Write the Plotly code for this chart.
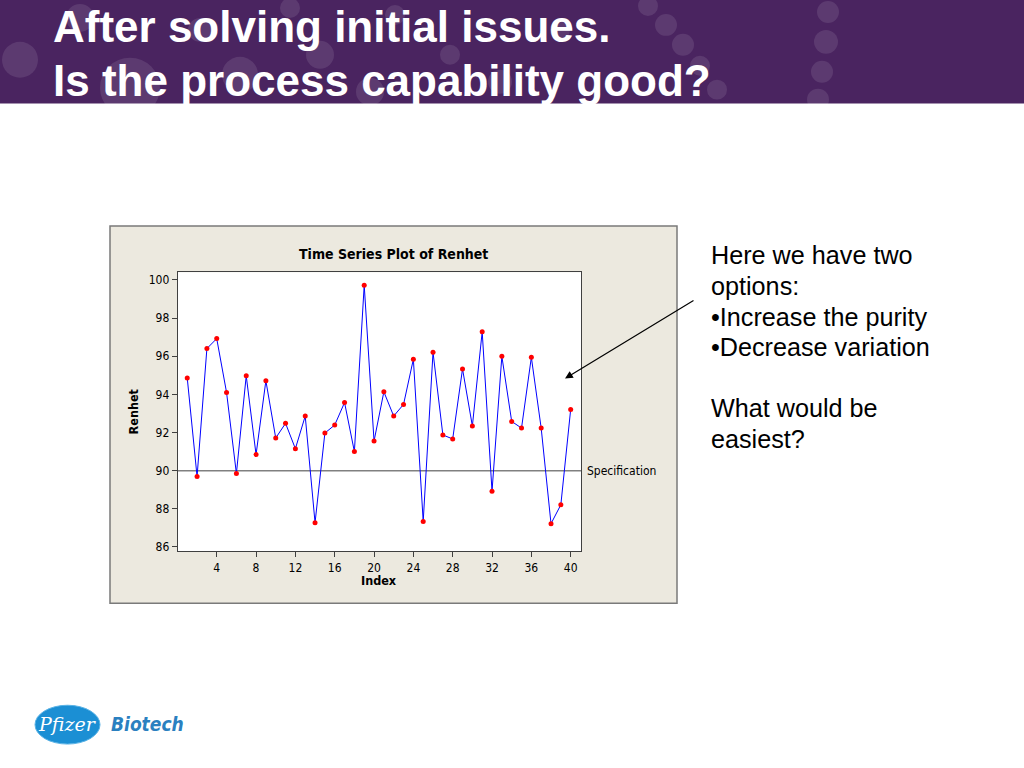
import plotly.graph_objects as go

W, H = 1024, 768

# ---- data ----
index = list(range(1, 41))
renhet = [94.86, 89.69, 96.40, 96.92, 94.10, 89.85, 94.97, 90.84, 94.71, 91.71,
          92.48, 91.15, 92.86, 87.27, 91.97, 92.39, 93.57, 91.00, 99.72, 91.55,
          94.13, 92.86, 93.47, 95.84, 87.34, 96.20, 91.87, 91.66, 95.33, 92.34,
          97.28, 88.92, 95.99, 92.58, 92.23, 95.94, 92.23, 87.22, 88.21, 93.21]
specification = 90
x_ticks = [4, 8, 12, 16, 20, 24, 28, 32, 36, 40]
y_ticks = [86, 88, 90, 92, 94, 96, 98, 100]

title_lines = ["After solving initial issues.", "Is the process capability good?"]
side_lines = ["Here we have two", "options:", "\u2022Increase the purity",
              "\u2022Decrease variation", "", "What would be", "easiest?"]


def px(x):
    return x / W


def py(y):
    return 1 - y / H


TAHOMA = "DejaVu Sans Condensed, Liberation Sans, Arial, sans-serif"
ARIAL = "Liberation Sans, Arial, sans-serif"

fig = go.Figure()
fig.add_trace(go.Scatter(
    x=index, y=renhet, mode="lines+markers",
    line=dict(color="#0000ff", width=1),
    marker=dict(color="#ff0000", size=5),
    hoverinfo="skip", showlegend=False))

PL, PR, PT, PB = 177.7, 581, 273.3, 553.3

fig.update_layout(
    width=W, height=H, margin=dict(l=0, r=0, t=0, b=0),
    paper_bgcolor="white", plot_bgcolor="white", showlegend=False,
    xaxis=dict(domain=[px(PL), px(PR)], range=[0.03, 41.05], tickvals=x_ticks,
               ticks="outside", ticklen=5, tickcolor="#404040", showgrid=False,
               zeroline=False, showline=True, linecolor="#404040", linewidth=1,
               mirror=True, tickfont=dict(family=TAHOMA, size=12, color="black")),
    yaxis=dict(domain=[py(PB), py(PT)], range=[85.78, 100.4], tickvals=y_ticks,
               ticks="outside", ticklen=5, tickcolor="#404040", showgrid=False,
               zeroline=False, showline=True, linecolor="#404040", linewidth=1,
               mirror=True, tickfont=dict(family=TAHOMA, size=12, color="black")),
)

shapes = []
# header band
shapes.append(dict(type="rect", xref="paper", yref="paper", x0=0, x1=1,
                   y0=py(104), y1=1, fillcolor="#4a2460", line=dict(width=0),
                   layer="below"))
bubbles = [(20, 60, 18), (80, 18, 14), (130, 88, 30), (200, 30, 12), (240, 75, 18),
           (290, 8, 10), (320, 55, 14), (370, 92, 14), (395, 15, 10), (450, 55, 10),
           (500, 82, 12), (560, 30, 10), (648, 6, 10), (666, 25, 11), (683, 45, 11),
           (700, 66, 10), (717, 90, 10), (828, 12, 11), (826, 42, 12), (822, 72, 11),
           (818, 100, 11)]
for cx, cy, r in bubbles:
    shapes.append(dict(type="circle", xref="paper", yref="paper",
                       x0=px(cx - r), x1=px(cx + r), y0=py(cy + r), y1=py(cy - r),
                       fillcolor="rgba(255,255,255,0.10)", line=dict(width=0),
                       layer="below"))
# chart frame
shapes.append(dict(type="rect", xref="paper", yref="paper", x0=px(110), x1=px(677),
                   y0=py(605.5), y1=py(227), fillcolor="#ece9df",
                   line=dict(color="#7a7a7a", width=1.5), layer="below"))
shapes.append(dict(type="rect", xref="paper", yref="paper", x0=px(PL), x1=px(PR),
                   y0=py(PB), y1=py(PT), fillcolor="white", line=dict(width=0),
                   layer="below"))
# specification line
shapes.append(dict(type="line", xref="x domain", yref="y", x0=0, x1=1,
                   y0=specification, y1=specification,
                   line=dict(color="#808080", width=1.5), layer="below"))
# logo ellipse
shapes.append(dict(type="circle", xref="paper", yref="paper",
                   x0=px(35), x1=px(100), y0=py(747), y1=py(708),
                   fillcolor="#1b8fd4", line=dict(color="#5ab3e6", width=1)))
fig.update_layout(shapes=shapes)

ann = []
# header title
title_y = [27, 81]
for t, yy in zip(title_lines, title_y):
    ann.append(dict(xref="paper", yref="paper", x=px(51), y=py(yy),
                    xanchor="left", yanchor="middle", text="<b>%s</b>" % t,
                    showarrow=False,
                    font=dict(family=ARIAL, size=44, color="white")))
# chart title and axis labels
ann.append(dict(xref="paper", yref="paper", x=px(393), y=py(255), xanchor="center",
                yanchor="middle", text="<b>Time Series Plot of Renhet</b>",
                showarrow=False, font=dict(family=TAHOMA, size=14, color="black")))
ann.append(dict(xref="paper", yref="paper", x=px(378.5), y=py(583), xanchor="center",
                yanchor="middle", text="<b>Index</b>", showarrow=False,
                font=dict(family=TAHOMA, size=12.5, color="black")))
ann.append(dict(xref="paper", yref="paper", x=px(133), y=py(413), xanchor="center",
                yanchor="middle", text="<b>Renhet</b>", textangle=-90,
                showarrow=False, font=dict(family=TAHOMA, size=12.5, color="black")))
ann.append(dict(xref="paper", yref="y", x=px(585), y=specification,
                xanchor="left", yanchor="middle", text="Specification",
                showarrow=False, font=dict(family=TAHOMA, size=12, color="black")))
# side text
for i, t in enumerate(side_lines):
    if not t:
        continue
    ann.append(dict(xref="paper", yref="paper", x=px(709), y=py(256.5 + 30.7 * i),
                    xanchor="left", yanchor="middle", text=t, showarrow=False,
                    font=dict(family=ARIAL, size=25.2, color="black")))
# arrow
ann.append(dict(xref="paper", yref="paper", x=px(565), y=py(380), text="",
                showarrow=True, ax=130, ay=-79, arrowhead=2, arrowsize=1.3,
                arrowwidth=1.2, arrowcolor="black"))
# logo text
ann.append(dict(xref="paper", yref="paper", x=px(67), y=py(727), xanchor="center",
                yanchor="middle", text="<i>Pfizer</i>", showarrow=False,
                font=dict(family="DejaVu Serif, serif", size=19, color="white")))
ann.append(dict(xref="paper", yref="paper", x=px(109), y=py(727), xanchor="left",
                yanchor="middle", text="<b><i>Biotech</i></b>", showarrow=False,
                font=dict(family="DejaVu Sans Condensed, DejaVu Sans, sans-serif",
                          size=19, color="#2a80c0")))
fig.update_layout(annotations=ann)

fig.write_html("out.html", config={"displayModeBar": False},
               post_script="document.body.style.margin='0';")
